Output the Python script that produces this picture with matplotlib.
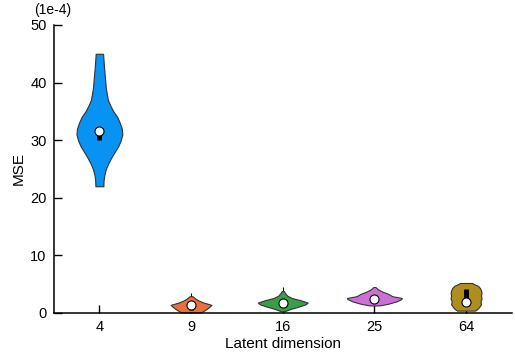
import numpy as np
import matplotlib.pyplot as plt

plt.rcParams['font.family'] = ['Liberation Sans', 'DejaVu Sans']

# latent dimensions on the x axis
dims = ['4', '9', '16', '25', '64']
colors = ['#0892f2', '#e8703c', '#3a9e48', '#cc70d6', '#b08e1e']

# violin outlines: MSE levels (1e-4) and relative density at each level
lev_4 = [22, 23, 24, 25, 26, 27, 28, 29, 30, 31, 32, 33, 34, 35, 36, 37, 39, 41, 43, 45]
den_4 = [4.0, 4.2, 5.0, 6.5, 9.0, 12.0, 15.5, 19.0, 21.5, 23.0, 22.5, 20.5, 18.0, 14.0,
         11.0, 8.5, 6.5, 5.5, 4.5, 3.7]
lev_9 = [0.1, 0.5, 1.0, 1.4, 1.8, 2.2, 2.6, 2.9]
den_9 = [10.0, 14.0, 18.0, 20.5, 12.5, 7.0, 3.5, 1.5]
lev_16 = [0.3, 0.7, 1.1, 1.5, 1.8, 2.2, 2.6, 3.0, 3.4, 3.8]
den_16 = [2.0, 8.0, 16.0, 23.0, 25.0, 18.0, 9.0, 4.5, 2.5, 1.0]
lev_25 = [1.3, 1.6, 2.0, 2.4, 2.6, 2.9, 3.3, 3.7, 4.1, 4.5]
den_25 = [5.0, 14.0, 22.0, 27.0, 27.5, 18.0, 14.0, 8.0, 3.5, 1.0]
lev_64 = [0.4, 0.7, 1.0, 1.5, 2.0, 2.5, 3.0, 3.5, 3.9, 4.3, 4.7, 5.0, 5.2]
den_64 = [9.0, 11.5, 13.0, 15.0, 14.5, 15.5, 15.0, 15.5, 15.0, 14.0, 12.0, 8.0, 6.0]

levels = [lev_4, lev_9, lev_16, lev_25, lev_64]
densities = [den_4, den_9, den_16, den_25, den_64]

# summary statistics
medians = [31.6, 1.4, 1.8, 2.4, 1.9]
q1 = [30.0, 0.5, 1.5, 2.0, 2.3]
q3 = [31.5, 1.3, 2.1, 2.6, 4.2]
whisk_lo = [22.0, 0.1, 0.3, 1.3, 0.0]
whisk_hi = [45.0, 3.5, 4.5, 4.5, 5.2]

fig = plt.figure(figsize=(5.15, 3.52), dpi=100)
ax = fig.add_axes([0.104, 0.111, 0.890, 0.818])

for i in range(len(dims)):
    y = np.array(levels[i])
    w = np.array(densities[i]) / 23.0 * 0.25
    ax.vlines(i, whisk_lo[i], whisk_hi[i], color='k', lw=0.8, zorder=1)
    ax.fill_betweenx(y, i - w, i + w, facecolor=colors[i], edgecolor='#333333',
                     lw=0.8, zorder=2)
    ax.vlines(i, q1[i], q3[i], color='k', lw=3.5, zorder=3)
    ax.plot(i, medians[i], 'o', ms=6.5, mfc='white', mec='k', mew=0.8, zorder=4)

ax.set_xlim(-0.5, 4.5)
ax.set_ylim(0, 50)
ax.set_xticks(range(len(dims)))
ax.set_xticklabels(dims)
ax.set_yticks([0, 10, 20, 30, 40, 50])
ax.tick_params(direction='in', length=5.5, width=1, labelsize=10.5, pad=5)
ax.spines['top'].set_visible(False)
ax.spines['right'].set_visible(False)
ax.spines['left'].set_linewidth(1.1)
ax.spines['bottom'].set_linewidth(1.1)
ax.set_xlabel('Latent dimension', fontsize=11, labelpad=2)
ax.set_ylabel('MSE', fontsize=11, labelpad=3)
fig.text(0.103, 0.972, '(1e-4)', fontsize=10, ha='center', va='center')

fig.savefig('out.png', dpi=100)
